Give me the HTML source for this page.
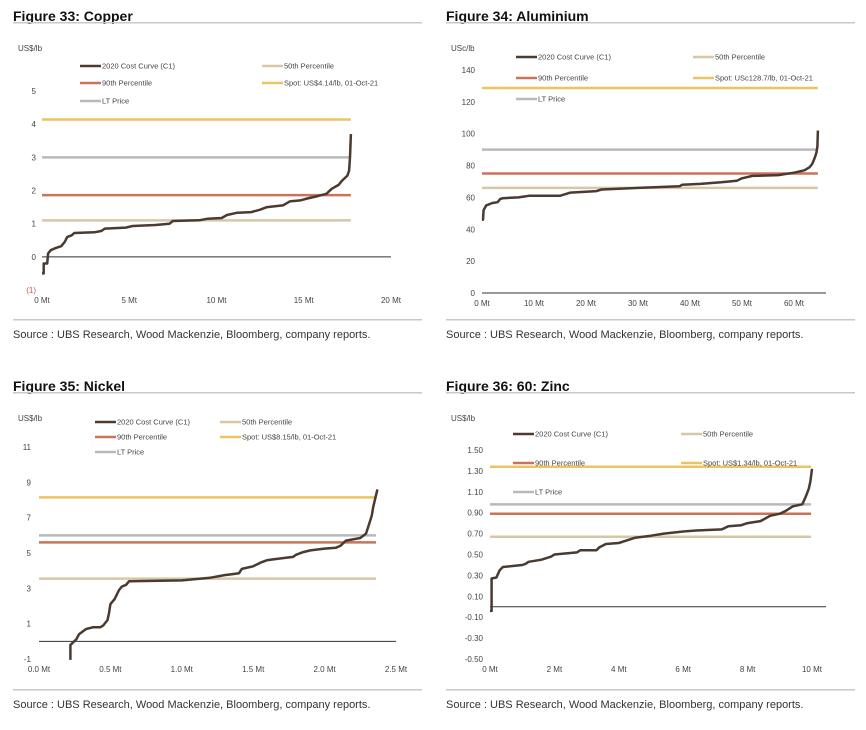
<!DOCTYPE html>
<html><head><meta charset="utf-8">
<style>
body{margin:0;background:#fff;}
svg{display:block;font-family:"Liberation Sans",sans-serif;}
.title{font-size:14px;font-weight:bold;fill:#111;}
.tick{font-size:8px;fill:#444;}
.leg{font-size:7.5px;fill:#444;}
.src{font-size:11px;fill:#333;}
</style></head>
<body>
<svg id="root" width="866" height="730" viewBox="0 0 866 730"></svg>
<script>
// ---- Copper ----
const copperCurve = [[0.0,-0.5],[0.1,-0.5],[0.1,-0.2],[0.3,-0.2],[0.35,0.1],[0.5,0.2],[0.8,0.27],[1.1,0.32],[1.3,0.45],[1.45,0.6],[1.7,0.65],[1.85,0.72],[3,0.74],[3.4,0.78],[3.6,0.85],[4.8,0.88],[5.2,0.93],[6.5,0.96],[7.3,1.0],[7.5,1.08],[9,1.1],[9.5,1.15],[10.3,1.17],[10.6,1.26],[11.2,1.33],[12,1.35],[12.5,1.42],[12.9,1.5],[13.8,1.55],[14.2,1.67],[14.8,1.7],[15.2,1.76],[15.8,1.83],[16.3,1.9],[16.6,2.05],[17,2.17],[17.2,2.3],[17.5,2.45],[17.6,2.6],[17.65,3.0],[17.7,3.7]];
const copperLevels = [1.1, 1.86, 3.0, 4.14];
const copperYTicks = [5,4,3,2,1,0,-1];
const copperYLabels = ["5","4","3","2","1","0","(1)"];
const copperXTicks = [0,5,10,15,20];
const copperXLabels = ["0 Mt","5 Mt","10 Mt","15 Mt","20 Mt"];
// ---- Aluminium ----
const aluCurve = [[0,46],[0.2,46],[0.3,52],[0.8,55],[2,56.5],[3,57],[3.5,59],[4,59.5],[7,60],[8,60.5],[9,61],[15,61],[16,62],[17,63],[22,64],[23,65],[30,66],[38,67],[38.5,68],[42,68.5],[46,69.5],[49,70.5],[50,72],[52,73.5],[57,74],[60,75.5],[62,77],[63,79],[63.5,81],[64,85],[64.3,88],[64.5,92],[64.6,102]];
const aluLevels = [66, 75, 90, 128.7];
const aluYTicks = [140,120,100,80,60,40,20,0];
const aluYLabels = ["140","120","100","80","60","40","20","0"];
const aluXTicks = [0,10,20,30,40,50,60];
const aluXLabels = ["0 Mt","10 Mt","20 Mt","30 Mt","40 Mt","50 Mt","60 Mt"];
// ---- Nickel ----
const nickelCurve = [[0.22,-1.05],[0.22,-0.2],[0.26,0.1],[0.28,0.4],[0.33,0.7],[0.38,0.8],[0.43,0.8],[0.45,0.9],[0.48,1.2],[0.49,1.6],[0.5,2.1],[0.53,2.4],[0.56,2.9],[0.58,3.1],[0.61,3.2],[0.63,3.4],[1.0,3.45],[1.2,3.6],[1.3,3.75],[1.35,3.8],[1.4,3.85],[1.42,4.1],[1.5,4.25],[1.55,4.45],[1.6,4.6],[1.7,4.7],[1.78,4.78],[1.8,4.9],[1.85,5.05],[1.9,5.15],[2.0,5.25],[2.08,5.3],[2.11,5.4],[2.15,5.7],[2.25,5.85],[2.29,6.1],[2.31,6.6],[2.33,7.1],[2.34,7.6],[2.37,8.6]];
const nickelLevels = [3.55, 5.6, 6.0, 8.15];
const nickelYTicks = [11,9,7,5,3,1,-1];
const nickelYLabels = ["11","9","7","5","3","1","-1"];
const nickelXTicks = [0,0.5,1,1.5,2,2.5];
const nickelXLabels = ["0.0 Mt","0.5 Mt","1.0 Mt","1.5 Mt","2.0 Mt","2.5 Mt"];
// ---- Zinc ----
const zincCurve = [[0,-0.04],[0.05,-0.04],[0.05,0.27],[0.2,0.28],[0.3,0.35],[0.4,0.38],[1,0.40],[1.1,0.41],[1.2,0.43],[1.6,0.45],[1.9,0.48],[2,0.5],[2.7,0.52],[2.8,0.54],[3.3,0.54],[3.4,0.57],[3.6,0.6],[4,0.61],[4.2,0.63],[4.5,0.66],[5,0.68],[5.4,0.7],[6,0.72],[6.4,0.73],[7.2,0.74],[7.4,0.77],[7.8,0.78],[8,0.8],[8.4,0.82],[8.7,0.87],[9,0.89],[9.2,0.92],[9.4,0.96],[9.7,0.98],[9.8,1.05],[9.9,1.13],[9.95,1.2],[10,1.32]];
const zincLevels = [0.67, 0.89, 0.98, 1.34];
const zincYTicks = [1.5,1.3,1.1,0.9,0.7,0.5,0.3,0.1,-0.1,-0.3,-0.5];
const zincYLabels = ["1.50","1.30","1.10","0.90","0.70","0.50","0.30","0.10","-0.10","-0.30","-0.50"];
const zincXTicks = [0,2,4,6,8,10];
const zincXLabels = ["0 Mt","2 Mt","4 Mt","6 Mt","8 Mt","10 Mt"];

const levelNames = ["50th Percentile","90th Percentile","LT Price","Spot"];
const levelColors = ["#d7c7a7","#c8735a","#b9b9bd","#e9c461"];
const NS="http://www.w3.org/2000/svg";
const root=document.getElementById('root');
function mk(tag,attrs,parent,text){const e=document.createElementNS(NS,tag);for(const k in attrs)e.setAttribute(k,attrs[k]);if(text!==undefined)e.textContent=text;(parent||root).appendChild(e);return e;}

const charts=[
 {id:'copper',ox:0,oy:0,title:'Figure 33: Copper',unit:'US$/lb',curve:copperCurve,levels:copperLevels,yt:copperYTicks,yl:copperYLabels,xt:copperXTicks,xl:copperXLabels,
  x0:42,x1:391,xv0:0,xv1:20,yA:290,yB:91,yv0:-1,yv1:5,lineEnd:17.7,ylx:36,xly:303,axisX1:391,
  spot:'Spot: US$4.14/lb, 01-Oct-21',leg:{rows:[66,83,101],c1:80,c2:262}},
 {id:'aluminium',ox:433,oy:0,title:'Figure 34: Aluminium',unit:'USc/lb',curve:aluCurve,levels:aluLevels,yt:aluYTicks,yl:aluYLabels,xt:aluXTicks,xl:aluXLabels,
  x0:482,x1:794,xv0:0,xv1:60,yA:293,yB:70,yv0:0,yv1:140,lineEnd:64.6,ylx:475,xly:306,axisX1:826,
  spot:'Spot: USc128.7/lb, 01-Oct-21',leg:{rows:[57,78,99],c1:516,c2:693}},
 {id:'nickel',ox:0,oy:370,title:'Figure 35: Nickel',unit:'US$/lb',curve:nickelCurve,levels:nickelLevels,yt:nickelYTicks,yl:nickelYLabels,xt:nickelXTicks,xl:nickelXLabels,
  x0:39,x1:396,xv0:0,xv1:2.5,yA:659,yB:447,yv0:-1,yv1:11,lineEnd:2.36,ylx:31,xly:672,axisX1:396,
  spot:'Spot: US$8.15/lb, 01-Oct-21',leg:{rows:[422,437,452],c1:95,c2:220}},
 {id:'zinc',ox:433,oy:370,title:'Figure 36: 60: Zinc',unit:'US$/lb',curve:zincCurve,levels:zincLevels,yt:zincYTicks,yl:zincYLabels,xt:zincXTicks,xl:zincXLabels,
  x0:490,x1:812,xv0:0,xv1:10,yA:659,yB:450,yv0:-0.5,yv1:1.5,lineEnd:9.97,ylx:483,xly:672,axisX1:826,
  spot:'Spot: US$1.34/lb, 01-Oct-21',leg:{rows:[434,463,492],c1:513,c2:681}}
];

charts.forEach(c=>{
  const g=mk('g',{});
  
  
  const X=v=>c.x0+(v-c.xv0)/(c.xv1-c.xv0)*(c.x1-c.x0);
  const Y=v=>c.yA-(v-c.yv0)/(c.yv1-c.yv0)*(c.yA-c.yB);
  const t=mk('text',{x:c.ox+13,y:c.oy+21,class:'title'},g,c.title);
  
  
  mk('rect',{x:c.ox+13,y:c.oy+22,width:409,height:1.5,fill:'#c8c8c8'},g);
  const u=mk('text',{x:c.ox+18,y:c.oy+51,class:'tick'},g,c.unit);
  
  
  c.yt.forEach((v,i)=>{
    const e=mk('text',{x:c.ylx,y:Y(v)+3,class:'tick','text-anchor':'end'},g,c.yl[i]);
    if(c.yl[i]==='(1)')e.setAttribute('style','fill:#d05050');
    
    
  });
  c.xt.forEach((v,i)=>{
    const e=mk('text',{x:X(v),y:c.xly,class:'tick','text-anchor':'middle'},g,c.xl[i]);
    
    
  });
  const ax=mk('line',{x1:X(0),x2:c.axisX1,y1:Y(0),y2:Y(0),stroke:'#333',"stroke-width":1},g);
  
  
  c.levels.forEach((v,i)=>{
    const l=mk('line',{x1:X(0),x2:X(c.lineEnd),y1:Y(v),y2:Y(v),stroke:levelColors[i],"stroke-width":2.5},g);
    
    
  });
  const d=c.curve.map((p,i)=>(i?'L':'M')+X(p[0]).toFixed(1)+','+Y(p[1]).toFixed(1)).join(' ');
  const cv=mk('path',{d:d,fill:'none',stroke:'#4a3a2f',"stroke-width":2.5,"stroke-linejoin":'round'},g);
  
  
  const items=[[c.leg.c1,c.leg.rows[0],'#4a3a2f','2020 Cost Curve (C1)'],[c.leg.c2,c.leg.rows[0],levelColors[0],levelNames[0]],
    [c.leg.c1,c.leg.rows[1],levelColors[1],levelNames[1]],[c.leg.c2,c.leg.rows[1],levelColors[3],c.spot],
    [c.leg.c1,c.leg.rows[2],levelColors[2],levelNames[2]]];
  items.forEach(it=>{
    const lg=mk('g',{},g);
    
    
    mk('line',{x1:it[0],x2:it[0]+21,y1:it[1],y2:it[1],stroke:it[2],"stroke-width":2.5},lg);
    mk('text',{x:it[0]+22,y:it[1]+2.7,class:'leg'},lg,it[3]);
  });
  mk('rect',{x:c.ox+13,y:c.oy+319,width:409,height:1.5,fill:'#c8c8c8'},g);
  const s=mk('text',{x:c.ox+13,y:c.oy+338,class:'src'},g,'Source : UBS Research, Wood Mackenzie, Bloomberg, company reports.');
  
  
});
</script>
</body></html>
